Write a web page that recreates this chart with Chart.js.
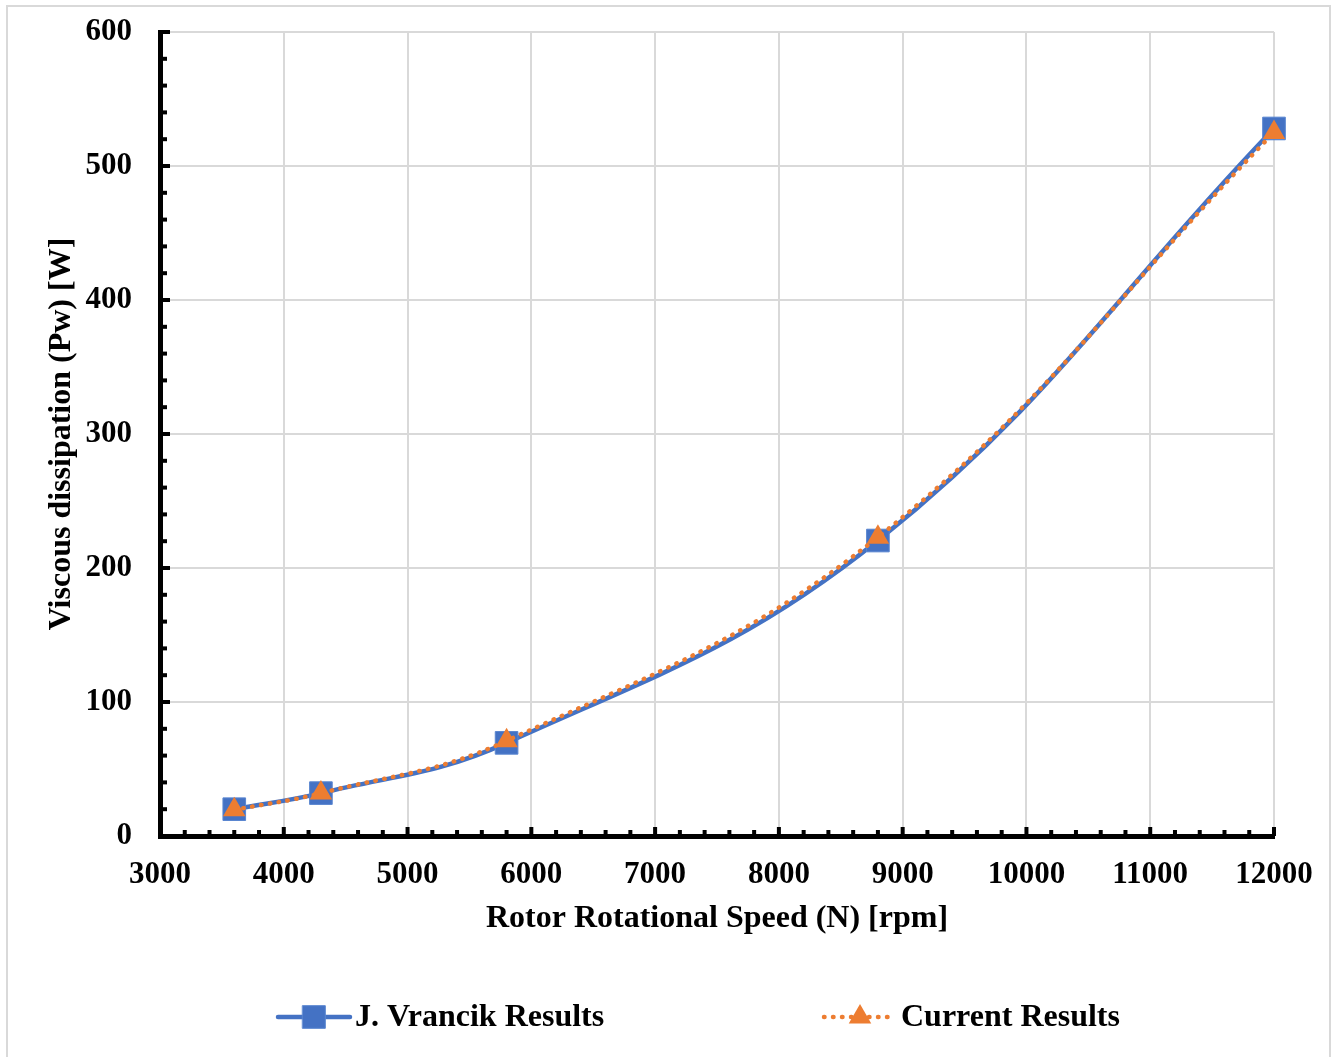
<!DOCTYPE html>
<html>
<head>
<meta charset="utf-8">
<script src="https://cdn.jsdelivr.net/npm/chart.js@4.4.1/dist/chart.umd.min.js"></script>
<style>
body{margin:0;background:#fff;}
#frame{position:absolute;left:6px;top:5px;width:1321px;height:1060px;border:2px solid #d9d9d9;}
#c{position:absolute;left:0;top:0;}
</style>
</head>
<body>
<div id="frame"></div>
<canvas id="c" width="1332" height="1057"></canvas>
<script>
// values
const speeds = [3600, 4300, 5800, 8800, 12000];
const vrancik = [20, 32, 69.5, 220.5, 528];
const current = [19.5, 32, 71, 223, 525];
const seriesNames = ["J. Vrancik Results", "Current Results"];
const xTitle = "Rotor Rotational Speed (N) [rpm]";
const yTitle = "Viscous dissipation (Pw) [W]";

const serif = '"Liberation Serif", "Times New Roman", serif';
const tickFont = {family:serif, size:31, weight:'bold'};
const titleFont = {family:serif, size:32, weight:'bold'};

function toPoints(ys){
return speeds.map((s,i)=>({x:s, y:ys[i]}));
}

// small black tick marks inside the axes, as in the original
const tickMarks = {
id:'tickMarks',
beforeDatasetsDraw(chart){
const {ctx, chartArea:a, scales:{x, y}} = chart;
ctx.save();
ctx.fillStyle = '#000';
x.ticks.forEach(t=>{
const px = x.getPixelForValue(t.value);
const h = Math.round(t.value)%1000===0 ? 9 : 6;
ctx.fillRect(px-2, a.bottom-h, 4, h);
});
y.ticks.forEach(t=>{
const py = y.getPixelForValue(t.value);
const w = Math.round(t.value)%100===0 ? 10 : 7;
ctx.fillRect(a.left, py-2, w, 4);
});
ctx.restore();
}
};

// legend row under the chart: line + marker + label
const legendRow = {
id:'legendRow',
afterDraw(chart){
const {ctx} = chart;
const y0 = 1017;
const starts = [278, 824];
chart.data.datasets.forEach((ds,i)=>{
const x0 = starts[i];
ctx.save();
ctx.strokeStyle = ds.borderColor;
ctx.lineWidth = ds.borderWidth;
ctx.lineCap = ds.borderCapStyle || 'butt';
ctx.setLineDash(ds.borderDash || []);
ctx.beginPath();
ctx.moveTo(x0, y0);
ctx.lineTo(x0+72, y0);
ctx.stroke();
ctx.setLineDash([]);
ctx.fillStyle = ds.pointBackgroundColor;
ctx.strokeStyle = ds.pointBorderColor;
ctx.lineWidth = ds.pointBorderWidth;
Chart.helpers.drawPoint(ctx, {pointStyle:ds.pointStyle, radius:ds.pointRadius, rotation:0, borderWidth:ds.pointBorderWidth}, x0+36, y0);
ctx.fillStyle = '#000';
ctx.font = 'bold 32px ' + serif;
ctx.textBaseline = 'middle';
ctx.textAlign = 'left';
ctx.fillText(seriesNames[i], x0+77, y0+1);
ctx.restore();
});
}
};

new Chart(document.getElementById("c"), {
type:"line",
data:{
datasets:[
{
label:seriesNames[0],
data:toPoints(vrancik),
borderColor:"#4472C4",
borderWidth:4.5,
borderCapStyle:'round',
tension:0.4,
clip:false,
pointStyle:'rect',
pointRadius:16,
pointBackgroundColor:"#4472C4",
pointBorderColor:"#5a86d0",
pointBorderWidth:1,
order:1
},
{
label:seriesNames[1],
data:toPoints(current),
borderColor:"#ED7D31",
borderWidth:4.5,
borderDash:[0.5, 8.5],
borderCapStyle:'round',
tension:0.4,
clip:false,
pointStyle:'triangle',
pointRadius:13,
pointBackgroundColor:"#ED7D31",
pointBorderColor:"#ED7D31",
pointBorderWidth:0,
order:0
}
]
},
options:{
responsive:false,
animation:false,
layout:{padding:{left:0, right:58, top:32, bottom:111}},
plugins:{
legend:{display:false},
tooltip:{enabled:false}
},
scales:{
x:{
type:'linear',
min:3000,
max:12000,
afterFit(s){ s.height = 110; s.paddingLeft = 0; s.paddingRight = 0; },
ticks:{
stepSize:200,
autoSkip:false,
maxRotation:0,
padding:20,
color:'#000',
font:tickFont,
callback:v=> Math.round(v)%1000===0 ? String(v) : ''
},
grid:{
drawTicks:false,
lineWidth:2,
color:c=> c.tick && Math.round(c.tick.value)%1000===0 ? '#d9d9d9' : 'rgba(0,0,0,0)'
},
border:{color:'#000', width:5},
title:{display:true, text:xTitle, color:'#000', font:titleFont, padding:{top:0, bottom:8}}
},
y:{
min:0,
max:600,
afterFit(s){ s.width = 160; s.paddingTop = 0; s.paddingBottom = 0; },
ticks:{
stepSize:20,
autoSkip:false,
padding:28,
color:'#000',
font:tickFont,
callback:v=> Math.round(v)%100===0 ? String(v) : ''
},
grid:{
drawTicks:false,
lineWidth:2,
color:c=> c.tick && Math.round(c.tick.value)%100===0 ? '#d9d9d9' : 'rgba(0,0,0,0)'
},
border:{color:'#000', width:5},
title:{display:true, text:yTitle, color:'#000', font:titleFont, padding:{top:43, bottom:0}}
}
}
},
plugins:[tickMarks, legendRow]
});
</script>
</body>
</html>
